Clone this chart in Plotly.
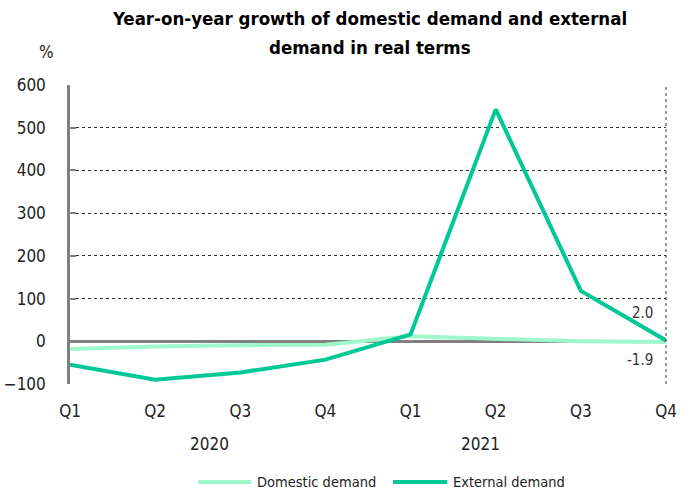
import plotly.graph_objects as go

quarters = ["Q1", "Q2", "Q3", "Q4", "Q1", "Q2", "Q3", "Q4"]
years = ["2020", "2021"]
series_names = ["Domestic demand", "External demand"]
domestic = [-18, -12, -9, -8, 12, 5, 0, -1.9]
external = [-55, -90, -73, -43, 16, 543, 118, 2.0]

x_idx = list(range(len(quarters)))
FONT = "DejaVu Sans Condensed, Liberation Sans Narrow, Liberation Sans, Arial, sans-serif"
COLORS = ["#9ff8cc", "#00c896"]

fig = go.Figure()
for name, vals, col in zip(series_names, [domestic, external], COLORS):
    fig.add_trace(go.Scatter(
        x=x_idx, y=vals, mode="lines", name=name,
        line=dict(color=col, width=4), showlegend=False,
    ))

fig.update_layout(
    width=691, height=490,
    margin=dict(l=70, r=25, t=85, b=106, autoexpand=False),
    paper_bgcolor="white", plot_bgcolor="white",
    font=dict(family=FONT, size=16, color="#222222"),
    xaxis=dict(
        range=[0, 7], tickmode="array", tickvals=x_idx, ticktext=quarters,
        showgrid=False, zeroline=False, showline=False, ticks="",
        ticklabelstandoff=15, tickfont=dict(size=17),
    ),
    yaxis=dict(
        range=[-100, 600], tickvals=[-100, 0, 100, 200, 300, 400, 500, 600],
        showgrid=True, gridcolor="#333333", griddash="dot", gridwidth=1,
        zeroline=True, zerolinecolor="#808080", zerolinewidth=2.5,
        showline=True, linecolor="#808080", linewidth=2.5,
        ticks="inside", ticklen=6, tickcolor="#808080", tickwidth=2,
        ticklabelstandoff=18, tickfont=dict(size=17),
    ),
)

# two-line bold title
fig.add_annotation(text="<b>Year-on-year growth of domestic demand and external</b>",
                   xref="paper", yref="paper", x=0.503, y=1.221, yanchor="middle",
                   showarrow=False, font=dict(size=18.5, color="black"))
fig.add_annotation(text="<b>demand in real terms</b>",
                   xref="paper", yref="paper", x=0.503, y=1.127, yanchor="middle",
                   showarrow=False, font=dict(size=18.5, color="black"))

# right border of the plot area
fig.add_shape(type="line", xref="paper", yref="paper", x0=1, x1=1, y0=0, y1=1,
              line=dict(color="#333333", width=1, dash="dot"))

# unit label and year group labels
fig.add_annotation(text="%", xref="paper", yref="paper", x=-0.055, y=1.110,
                   yanchor="middle", showarrow=False, font=dict(size=17))
fig.add_annotation(text=years[0], xref="x", yref="paper", x=1.64, y=-0.2,
                   yanchor="middle", showarrow=False, font=dict(size=17))
fig.add_annotation(text=years[1], xref="x", yref="paper", x=4.82, y=-0.2,
                   yanchor="middle", showarrow=False, font=dict(size=17))

# legend: long line samples followed by series names
legend_y = -0.328
legend_items = [(0.215, 0.304, 0.310), (0.542, 0.633, 0.639)]
for (x0, x1, xt), name, col in zip(legend_items, series_names, COLORS):
    fig.add_shape(type="line", xref="paper", yref="paper", x0=x0, x1=x1,
                  y0=legend_y, y1=legend_y, line=dict(color=col, width=4))
    fig.add_annotation(text=name, xref="paper", yref="paper", x=xt, y=legend_y,
                       xanchor="left", yanchor="middle", showarrow=False,
                       font=dict(size=14.5, color="#222222"))

# end-point value labels
fig.add_annotation(text=f"{external[-1]:.1f}", x=7, y=external[-1], xref="x", yref="y",
                   xanchor="right", yanchor="middle", xshift=-11, yshift=27,
                   showarrow=False, font=dict(size=15, color="#333333"))
fig.add_annotation(text=f"{domestic[-1]:.1f}", x=7, y=domestic[-1], xref="x", yref="y",
                   xanchor="right", yanchor="middle", xshift=-11, yshift=-18,
                   showarrow=False, font=dict(size=15, color="#333333"))

fig.write_html("out.html")
